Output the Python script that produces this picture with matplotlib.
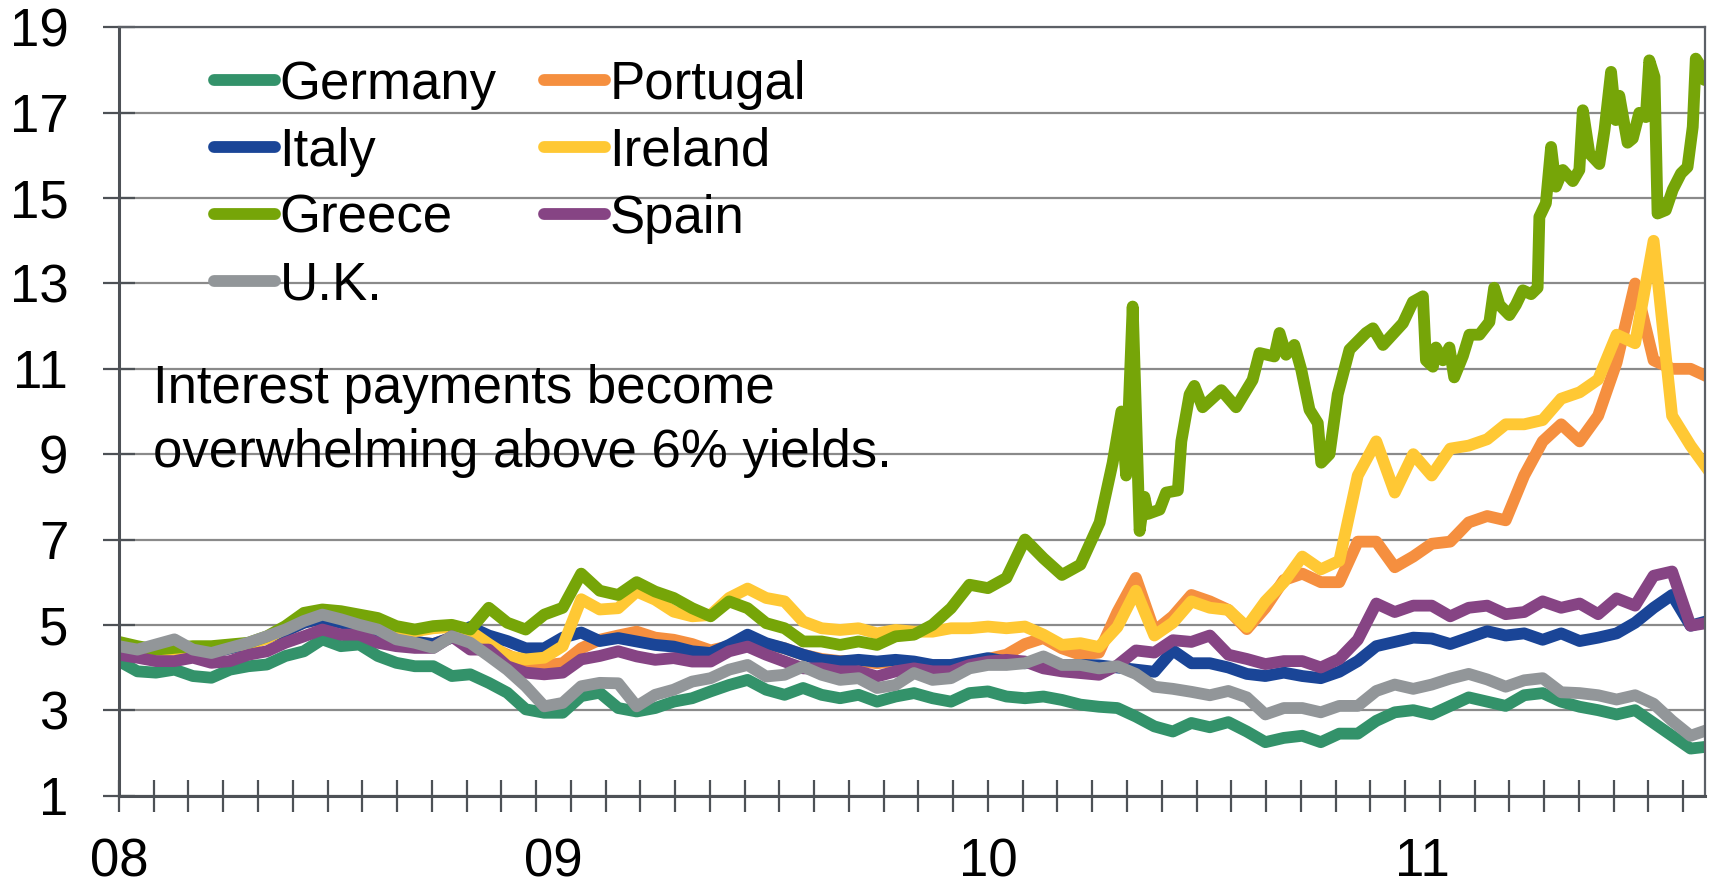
import numpy as np
import matplotlib
matplotlib.use('Agg')
import matplotlib.pyplot as plt
from matplotlib.ticker import MultipleLocator, FixedLocator

plt.rcParams['font.family'] = ['Liberation Sans', 'DejaVu Sans']

# sample dates (decimal years), roughly every half month from Jan 2008
years = 2008 + np.arange(87) / 23.5

germany = [4.15, 3.91, 3.88, 3.95, 3.8, 3.76, 3.95, 4.03, 4.07, 4.27, 4.38, 4.66, 4.5, 4.54, 4.27, 4.11, 4.03, 4.03, 3.8, 3.84, 3.64, 3.41, 3.02, 2.94, 2.94, 3.33, 3.41,
           3.05, 2.97, 3.05, 3.2, 3.28, 3.44, 3.59, 3.71, 3.48, 3.36, 3.52, 3.36, 3.28, 3.36, 3.2, 3.32, 3.4, 3.28, 3.2, 3.4, 3.44, 3.32, 3.28, 3.32, 3.24, 3.13,
           3.08, 3.05, 2.85, 2.62, 2.5, 2.7, 2.6, 2.72, 2.5, 2.25, 2.35, 2.4, 2.25, 2.45, 2.45, 2.75, 2.95,
           3.0, 2.9, 3.1, 3.3, 3.2, 3.1, 3.35, 3.4, 3.2, 3.08, 3.0, 2.9, 3.0, 2.7, 2.4, 2.1, 2.15]

portugal = [4.45, 4.4, 4.45, 4.5, 4.4, 4.35, 4.45, 4.55, 4.7, 4.85, 5.05, 5.15, 5.05, 4.95, 4.85, 4.7, 4.6, 4.55, 4.7, 4.9,
            4.5, 4.3, 4.1, 4.05, 4.1, 4.45, 4.65,
            4.75, 4.84, 4.7, 4.65, 4.55, 4.4, 4.5, 4.7, 4.55, 4.45, 4.3, 4.2, 4.15, 4.15, 4.1, 4.15, 4.1, 4.05, 4.05, 4.1, 4.2, 4.3, 4.55, 4.69, 4.45, 4.3,
            4.35, 5.3, 6.1, 4.85, 5.2, 5.7, 5.55, 5.35, 4.9, 5.4, 6.05, 6.2, 6.0, 6.0, 6.95, 6.95, 6.35,
            6.6, 6.9, 6.95, 7.4, 7.55, 7.45, 8.5, 9.3, 9.7, 9.3, 9.9, 11.15, 13.0, 11.2, 11.0, 11.0, 10.8]

italy = [4.45, 4.4, 4.45, 4.5, 4.4, 4.35, 4.45, 4.55, 4.7, 4.85, 5.05, 5.15, 5.05, 4.95, 4.85, 4.7, 4.6, 4.55, 4.7,
         4.95, 4.75, 4.62, 4.45, 4.45, 4.7, 4.82, 4.62,
         4.69, 4.61, 4.53, 4.49, 4.38, 4.34, 4.53, 4.77, 4.57, 4.45, 4.3, 4.18, 4.14, 4.18, 4.14, 4.18, 4.14, 4.06, 4.06, 4.14, 4.22, 4.14, 4.1, 4.14, 4.06, 4.06,
         4.05, 4.0, 3.95, 3.9, 4.4, 4.1, 4.1, 4.0, 3.85, 3.8, 3.88, 3.8, 3.75, 3.9, 4.15, 4.5, 4.6,
         4.7, 4.68, 4.55, 4.7, 4.85, 4.75, 4.8, 4.65, 4.8, 4.62, 4.7, 4.8, 5.05, 5.4, 5.7, 4.98, 5.1]

ireland = [4.55, 4.45, 4.38, 4.42, 4.45, 4.45, 4.5, 4.55, 4.68, 4.92, 5.22, 5.3, 5.27, 5.2, 5.1, 4.92, 4.85, 4.92, 4.95, 4.85,
           4.55, 4.27, 4.19, 4.23, 4.5, 5.6, 5.36,
           5.39, 5.78, 5.59, 5.31, 5.2, 5.23, 5.63, 5.85, 5.63, 5.55, 5.08, 4.92, 4.88, 4.92, 4.8, 4.88, 4.84, 4.84, 4.92, 4.92, 4.96, 4.92, 4.96, 4.77, 4.53, 4.57,
           4.48, 4.95, 5.8, 4.75, 5.05, 5.55, 5.4, 5.35, 4.95, 5.55, 6.0, 6.6, 6.3, 6.5, 8.5, 9.3, 8.1,
           9.0, 8.5, 9.13, 9.2, 9.35, 9.7, 9.7, 9.8, 10.3, 10.45, 10.75, 11.8, 11.6, 14.0, 9.9, 9.2, 8.6]

spain = [4.3, 4.23, 4.15, 4.15, 4.23, 4.11, 4.15, 4.3, 4.38, 4.58, 4.73, 4.89, 4.77, 4.77, 4.58, 4.5, 4.46, 4.46, 4.73, 4.42, 4.42, 4.03, 3.88, 3.84, 3.88, 4.19, 4.27,
         4.38, 4.26, 4.18, 4.22, 4.14, 4.14, 4.38, 4.49, 4.3, 4.14, 3.98, 3.98, 3.91, 3.91, 3.79, 3.91, 3.98, 3.91, 3.91, 4.06, 4.14, 4.18, 4.14, 3.98, 3.91, 3.87,
         3.83, 4.05, 4.4, 4.35, 4.64, 4.6, 4.75, 4.3, 4.2, 4.08, 4.15, 4.15, 4.0, 4.2, 4.65, 5.5, 5.3,
         5.45, 5.45, 5.2, 5.4, 5.45, 5.25, 5.3, 5.55, 5.4, 5.5, 5.25, 5.62, 5.45, 6.15, 6.25, 4.98, 5.05]

uk = [4.5, 4.42, 4.54, 4.66, 4.42, 4.34, 4.46, 4.58, 4.73, 4.89, 5.09, 5.24, 5.13, 5.0, 4.89, 4.66, 4.58, 4.46, 4.73, 4.58, 4.27, 3.95, 3.56, 3.09, 3.17, 3.56, 3.64,
      3.63, 3.09, 3.36, 3.48, 3.67, 3.75, 3.95, 4.06, 3.79, 3.83, 4.02, 3.83, 3.71, 3.75, 3.52, 3.59, 3.87, 3.71, 3.75, 3.98, 4.06, 4.06, 4.1, 4.26, 4.06, 4.06,
      3.98, 4.03, 3.85, 3.55, 3.5, 3.43, 3.35, 3.45, 3.3, 2.9, 3.05, 3.05, 2.95, 3.1, 3.1, 3.45, 3.6,
      3.5, 3.6, 3.74, 3.85, 3.72, 3.55, 3.7, 3.75, 3.42, 3.4, 3.35, 3.25, 3.35, 3.15, 2.75, 2.4, 2.55]

# Greece: half-monthly until spring 2010, then denser points for the spikes
greece_early = [4.6, 4.5, 4.42, 4.46, 4.5, 4.5, 4.54, 4.58, 4.73, 4.97, 5.28, 5.36, 5.32, 5.24, 5.16, 4.97, 4.89, 4.97, 5.0, 4.89, 5.4, 5.05, 4.89, 5.24, 5.4, 6.2, 5.8,
                5.7, 6.0, 5.78, 5.63, 5.39, 5.2, 5.55, 5.39, 5.04, 4.92, 4.61, 4.61, 4.53, 4.61, 4.53, 4.73, 4.77, 5.0, 5.39, 5.94, 5.86, 6.1, 7.0, 6.56, 6.17, 6.41]
greece_late_t = [2010.257, 2010.287, 2010.307, 2010.318, 2010.333, 2010.349, 2010.360, 2010.368, 2010.395, 2010.410,
                 2010.437, 2010.445, 2010.464, 2010.475, 2010.494, 2010.537, 2010.571, 2010.609, 2010.625, 2010.659,
                 2010.671, 2010.686, 2010.705, 2010.721, 2010.740, 2010.759, 2010.767, 2010.786, 2010.805, 2010.832,
                 2010.870, 2010.886, 2010.909, 2010.955, 2010.978, 2011.001, 2011.008, 2011.024, 2011.031, 2011.047,
                 2011.062, 2011.073, 2011.093, 2011.108, 2011.131, 2011.154, 2011.165, 2011.177, 2011.200, 2011.215,
                 2011.231, 2011.250, 2011.265, 2011.269, 2011.284, 2011.296, 2011.307, 2011.323, 2011.346, 2011.361,
                 2011.369, 2011.384, 2011.407, 2011.419, 2011.434, 2011.445, 2011.453, 2011.472, 2011.484, 2011.499,
                 2011.514, 2011.522, 2011.534, 2011.541, 2011.560, 2011.576, 2011.595, 2011.610, 2011.622, 2011.629,
                 2011.641, 2011.649]
greece_late_v = [7.4, 8.8, 10.0, 8.5, 12.46, 7.2, 8.0, 7.6, 7.7, 8.1,
                 8.15, 9.3, 10.4, 10.6, 10.1, 10.5, 10.1, 10.74, 11.37, 11.29,
                 11.84, 11.33, 11.56, 10.98, 10.04, 9.73, 8.8, 9.0, 10.4, 11.45,
                 11.84, 11.95, 11.56, 12.07, 12.57, 12.7, 11.2, 11.05, 11.5, 11.2,
                 11.5, 10.8, 11.3, 11.8, 11.8, 12.1, 12.9, 12.5, 12.26, 12.5,
                 12.84, 12.75, 12.9, 14.56, 14.88, 16.2, 15.27, 15.66, 15.4, 15.66,
                 17.06, 16.05, 15.8, 16.6, 17.96, 16.83, 17.4, 16.3, 16.4, 17.0,
                 16.9, 18.23, 17.84, 14.64, 14.72, 15.2, 15.58, 15.73, 16.67, 18.27,
                 18.08, 17.77]

year_ticks = [2008, 2009, 2010, 2011]
year_labels = ['08', '09', '10', '11']

fig = plt.figure(figsize=(17.14, 8.84), dpi=100)
ax = fig.add_axes([0.0694, 0.1001, 0.9253, 0.8688])

style = dict(linewidth=8.5, solid_capstyle='round', solid_joinstyle='round')
greece_x = np.concatenate([years[:53], greece_late_t])
greece_y = greece_early + greece_late_v

l_de, = ax.plot(years, germany, color='#33926a', label='Germany', **style)
l_pt, = ax.plot(years, portugal, color='#f58f3f', label='Portugal', **style)
l_it, = ax.plot(years, italy, color='#1a4597', label='Italy', **style)
l_ie, = ax.plot(years, ireland, color='#ffc834', label='Ireland', **style)
l_gr, = ax.plot(greece_x, greece_y, color='#76a508', label='Greece', **style)
l_es, = ax.plot(years, spain, color='#864484', label='Spain', **style)
l_uk, = ax.plot(years, uk, color='#929699', label='U.K.', **style)

ax.set_xlim(2008, 2011.65)
ax.set_ylim(1, 19)
ax.set_yticks(range(1, 20, 2))
ax.yaxis.grid(True, color='#8a8a8a', linewidth=1.6)
ax.set_axisbelow(True)

ax.xaxis.set_major_locator(FixedLocator(year_ticks))
ax.set_xticklabels(year_labels)
ax.xaxis.set_minor_locator(MultipleLocator(0.08))
ax.xaxis.remove_overlapping_locs = False
ax.tick_params(axis='x', which='major', length=0, pad=30, labelsize=38)
ax.tick_params(axis='x', which='minor', direction='inout', length=23, width=1.6, color='#4d5156')
ax.tick_params(axis='y', direction='inout', length=23, width=1.6, color='#4d5156', pad=25, labelsize=38)

for side in ['left', 'bottom']:
    ax.spines[side].set_color('#4d5156')
    ax.spines[side].set_linewidth(2.2)
for side in ['top', 'right']:
    ax.spines[side].set_color('#5c6066')
    ax.spines[side].set_linewidth(1.6)

handles = [l_de, l_it, l_gr, l_uk, l_pt, l_ie, l_es]
ax.legend(handles=handles, labels=[h.get_label() for h in handles], ncol=2,
          loc='upper left', bbox_to_anchor=(0.06, 0.958), frameon=False,
          fontsize=38, handlelength=1.16, handletextpad=0.08, columnspacing=0.9,
          labelspacing=0.32, borderaxespad=0, borderpad=0)

fig.text(0.0893, 0.5238, 'Interest payments become\noverwhelming above 6% yields.',
         fontsize=38, va='center', ha='left', linespacing=1.35)

fig.savefig('out.png', dpi=100)
